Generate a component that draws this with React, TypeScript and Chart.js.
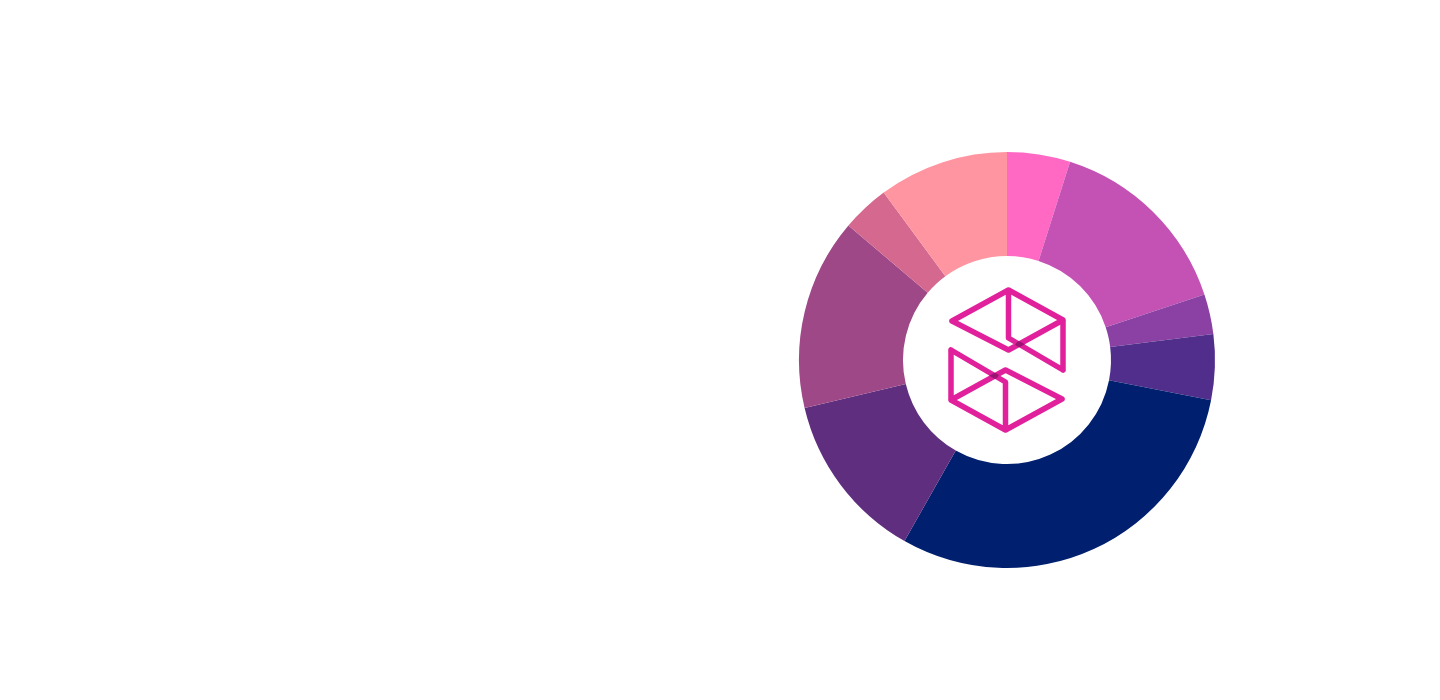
import React, { useEffect, useRef } from "react";
import { Chart, registerables } from "chart.js";

Chart.register(...registerables);

const categories = [
  "Segment 1",
  "Segment 2",
  "Segment 3",
  "Segment 4",
  "Segment 5",
  "Segment 6",
  "Segment 7",
  "Segment 8",
  "Segment 9",
];
const shares = [4.9, 15.0, 3.1, 5.1, 30.1, 13.1, 14.9, 3.7, 10.1];
const sliceColors = [
  "#FF69C4",
  "#C452B5",
  "#8B41A3",
  "#512E8B",
  "#00206F",
  "#5F2E7E",
  "#9E4887",
  "#D4688F",
  "#FF95A0",
];

const LOGO_COLOR = "#E1209B";
const LOGO_OVERLAP = "#9A1472";

type P = [number, number];

const logoPlugin = {
  id: "centerLogo",
  afterDatasetsDraw(chart: any) {
    const { ctx, chartArea } = chart;
    const cx = (chartArea.left + chartArea.right) / 2;
    const cy = (chartArea.top + chartArea.bottom) / 2;
    const lw = 5.5;
    const L: P = [-55, -39];
    const T: P = [1.5, -70];
    const RT: P = [56, -40];
    const RB: P = [56, 10];
    const B: P = [1.5, -10];
    const I: P = [1.5, -22];
    ctx.save();
    ctx.translate(cx, cy);
    for (const rot of [0, Math.PI]) {
      ctx.save();
      ctx.rotate(rot);
      ctx.strokeStyle = LOGO_COLOR;
      ctx.lineWidth = lw;
      ctx.lineCap = "round";
      ctx.lineJoin = "round";
      ctx.beginPath();
      ctx.moveTo(L[0], L[1]);
      ctx.lineTo(T[0], T[1]);
      ctx.lineTo(RT[0], RT[1]);
      ctx.lineTo(RB[0], RB[1]);
      ctx.moveTo(L[0], L[1]);
      ctx.lineTo(B[0], B[1]);
      ctx.lineTo(RT[0], RT[1]);
      ctx.moveTo(T[0], T[1]);
      ctx.lineTo(I[0], I[1]);
      ctx.lineTo(RB[0], RB[1]);
      ctx.stroke();

      // darker overlap where the inner line crosses RT->B
      const dx = B[0] - RT[0];
      const dy = B[1] - RT[1];
      const len = Math.hypot(dx, dy);
      const nx = (-dy / len) * (lw / 2);
      const ny = (dx / len) * (lw / 2);
      ctx.save();
      ctx.beginPath();
      ctx.moveTo(RT[0] + nx, RT[1] + ny);
      ctx.lineTo(B[0] + nx, B[1] + ny);
      ctx.lineTo(B[0] - nx, B[1] - ny);
      ctx.lineTo(RT[0] - nx, RT[1] - ny);
      ctx.closePath();
      ctx.clip();
      ctx.strokeStyle = LOGO_OVERLAP;
      ctx.lineCap = "butt";
      ctx.beginPath();
      ctx.moveTo(I[0] + 8, I[1] + 4.6);
      ctx.lineTo(RB[0] - 8, RB[1] - 4.6);
      ctx.stroke();
      ctx.restore();

      ctx.restore();
    }
    ctx.restore();
  },
};

export default function App() {
  const canvasRef = useRef<HTMLCanvasElement | null>(null);

  useEffect(() => {
    if (!canvasRef.current) return;
    const chart = new Chart(canvasRef.current, {
      type: "doughnut",
      data: {
        labels: categories,
        datasets: [
          {
            data: shares,
            backgroundColor: sliceColors,
            borderWidth: 0,
            hoverOffset: 0,
          },
        ],
      },
      options: {
        responsive: true,
        maintainAspectRatio: false,
        animation: false,
        cutout: "50%",
        layout: {
          padding: { left: 791, right: 217, top: 144, bottom: 124 },
        },
        plugins: {
          legend: { display: false },
          tooltip: { enabled: false },
          title: { display: false },
        },
      },
      plugins: [logoPlugin],
    });
    return () => chart.destroy();
  }, []);

  return (
    <div style={{ position: "relative", width: "1424px", height: "684px" }}>
      <canvas ref={canvasRef} />
    </div>
  );
}
